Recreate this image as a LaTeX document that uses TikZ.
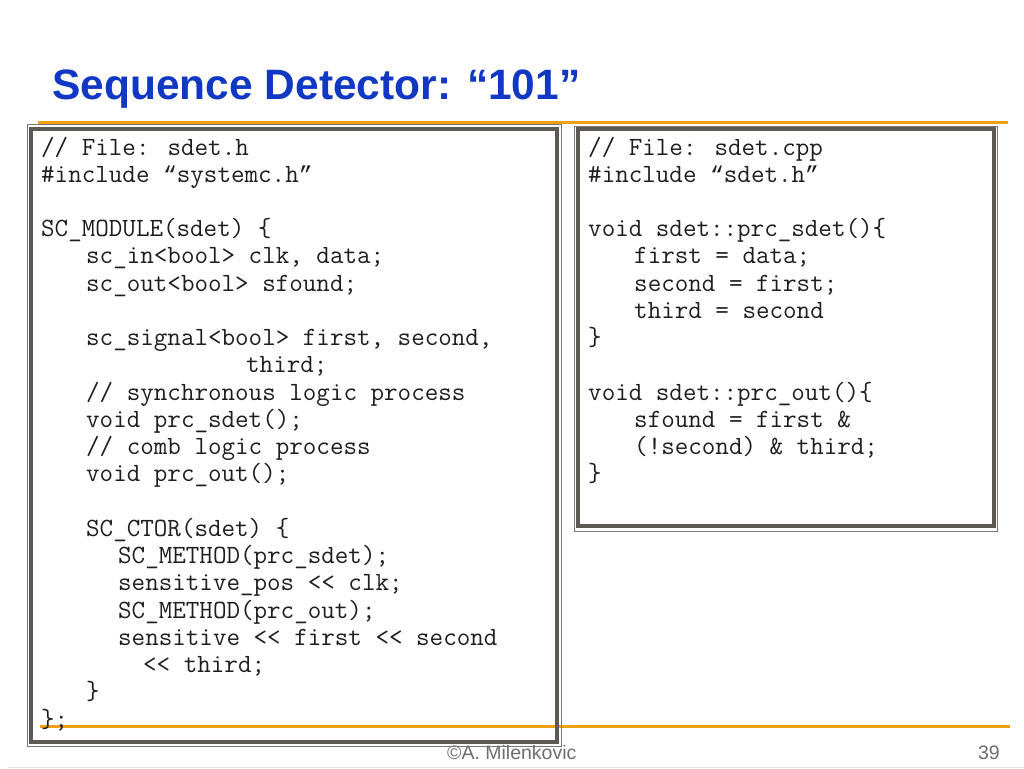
\documentclass[tikz,border=0pt]{standalone}
\usepackage{fontspec}
\setmainfont{Liberation Sans}
\newfontfamily\quotefont{Liberation Mono}
\newcommand\myoq{{\quotefont\fontsize{23}{27}\selectfont “}}
\newcommand\mycq{{\quotefont\fontsize{23}{27}\selectfont ”}}
\definecolor{titleblue}{RGB}{16,56,196}
\definecolor{rulecol}{RGB}{240,160,20}
\definecolor{framecol}{RGB}{95,89,83}
\definecolor{framethin}{RGB}{125,119,113}
\definecolor{footcol}{RGB}{110,110,110}
\definecolor{edgecol}{RGB}{228,228,228}
\definecolor{codecol}{RGB}{30,30,30}
\begin{document}
\begin{tikzpicture}[x=1pt,y=-1pt,
  codeline/.style={anchor=base west,inner sep=0pt,font=\ttfamily\fontsize{26.3}{27}\selectfont,text=codecol},
  thickframe/.style={draw=framecol,line width=4pt},
  thinframe/.style={draw=framethin,line width=1pt},
  orangerule/.style={draw=rulecol,line width=3pt},
  foottext/.style={anchor=base west,inner sep=0pt,font=\fontsize{19.5}{21}\selectfont,text=footcol}]
\useasboundingbox (0,0) rectangle (1024,768);
\fill[white] (0,0) rectangle (1024,768);
% title
\node[anchor=base west,inner sep=0pt,font=\bfseries\fontsize{42.5}{48}\selectfont,text=titleblue] (title) at (52,99) {Sequence Detector: “101”};
% rules
\coordinate (rt1) at (38,122.5);
\coordinate (rt2) at (1008,122.5);
\coordinate (rb1) at (40,726);
\coordinate (rb2) at (1010,726);
\draw[orangerule] (rt1) -- (rt2);
\draw[orangerule] (rb1) -- (rb2);
% left box
\draw[thinframe] (27,124) rectangle (561,746);
\draw[thickframe] (31,129) rectangle (557,742);
% right box
\draw[thinframe] (574,126) rectangle (997,531);
\draw[thickframe] (578,129) rectangle (994,526);
% left code
\node[codeline] (l1) at (41,155) {// File: sdet.h};
\node[codeline] (l2) at (41,182.24) {\#include \myoq systemc.h\mycq};
\node[codeline] (l4) at (41,236.72) {SC\_MODULE(sdet) \{};
\node[codeline] (l5) at (86,263.96) {sc\_in<bool> clk, data;};
\node[codeline] (l6) at (86,291.2) {sc\_out<bool> sfound;};
\node[codeline] (l8) at (86,345.68) {sc\_signal<bool> first, second,};
\node[codeline] (l9) at (246,372.92) {third;};
\node[codeline] (l10) at (86,400.16) {// synchronous logic process};
\node[codeline] (l11) at (86,427.4) {void prc\_sdet();};
\node[codeline] (l12) at (86,454.64) {// comb logic process};
\node[codeline] (l13) at (86,481.88) {void prc\_out();};
\node[codeline] (l15) at (86,536.36) {SC\_CTOR(sdet) \{};
\node[codeline] (l16) at (118,563.6) {SC\_METHOD(prc\_sdet);};
\node[codeline] (l17) at (118,590.84) {sensitive\_pos << clk;};
\node[codeline] (l18) at (118,618.08) {SC\_METHOD(prc\_out);};
\node[codeline] (l19) at (118,645.32) {sensitive << first << second};
\node[codeline] (l20) at (143,672.56) {<< third;};
\node[codeline] (l21) at (86,699.8) {\}};
\node[codeline] (l22) at (41,727.04) {\};};
% right code
\node[codeline] (r1) at (588,155) {// File: sdet.cpp};
\node[codeline] (r2) at (588,182.24) {\#include \myoq sdet.h\mycq};
\node[codeline] (r4) at (588,236.72) {void sdet::prc\_sdet()\{};
\node[codeline] (r5) at (634,263.96) {first = data;};
\node[codeline] (r6) at (634,291.2) {second = first;};
\node[codeline] (r7) at (634,318.44) {third = second};
\node[codeline] (r8) at (588,345.68) {\}};
\node[codeline] (r10) at (588,400.16) {void sdet::prc\_out()\{};
\node[codeline] (r11) at (634,427.4) {sfound = first \&};
\node[codeline] (r12) at (634,454.64) {(!second) \& third;};
\node[codeline] (r13) at (588,481.88) {\}};
% footer
\node[foottext] (foot) at (447,759) {©A. Milenkovic};
\node[foottext,anchor=base east] (page) at (1000,759) {39};
\coordinate (e1) at (8,767.5);
\coordinate (e2) at (1024,767.5);
\draw[edgecol,line width=0.8pt] (e1) -- (e2);
\end{tikzpicture}
\end{document}
